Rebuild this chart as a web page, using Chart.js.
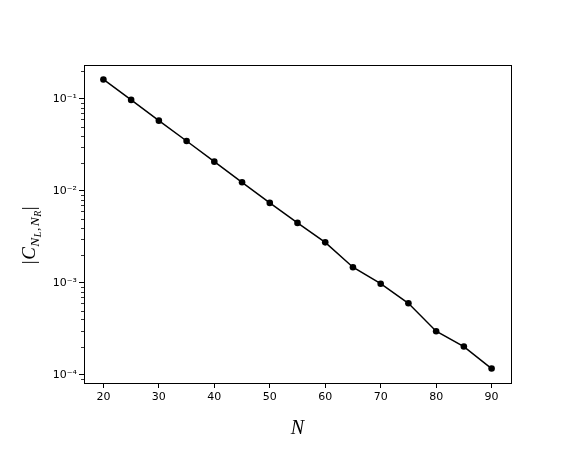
<!DOCTYPE html>
<html>
<head>
<meta charset="utf-8">
<script src="https://cdn.jsdelivr.net/npm/chart.js@4/dist/chart.umd.min.js"></script>
<style>
  html, body { margin: 0; padding: 0; background: #ffffff; }
  #wrap { width: 581px; height: 454px; }
</style>
</head>
<body>
<div id="wrap"><canvas id="c" width="581" height="454"></canvas></div>
<script>
// ---- data ----
const nValues = [20, 25, 30, 35, 40, 45, 50, 55, 60, 65, 70, 75, 80, 85, 90];
const cValues = [0.163, 0.0976, 0.0581, 0.0349, 0.0208, 0.0124, 0.00741, 0.00449,
                 0.00276, 0.00148, 0.00098, 0.000600, 0.000298, 0.000203, 0.000117];
const xTickValues = [20, 30, 40, 50, 60, 70, 80, 90];
const yTickValues = [1e-4, 1e-3, 1e-2, 1e-1];
const yTickLabels = ['10\u207B\u2074', '10\u207B\u00B3', '10\u207B\u00B2', '10\u207B\u00B9'];
const xMin = 16.5, xMax = 93.5;
const yMin = 8.15e-5, yMax = 0.234;

const tickFont = { family: 'DejaVu Sans', size: 11 };

// frame, minor log ticks and math axis labels
const decorPlugin = {
  id: 'decor',
  afterDraw(chart) {
    const ctx = chart.ctx;
    const a = chart.chartArea;
    const ys = chart.scales.y;
    ctx.save();
    // frame
    ctx.strokeStyle = '#000';
    ctx.lineWidth = 1;
    ctx.strokeRect(Math.round(a.left) + 0.5, Math.round(a.top) + 0.5,
                   Math.round(a.right - a.left), Math.round(a.bottom - a.top));
    // minor ticks on log axis
    ctx.lineWidth = 0.8;
    for (let e = -5; e <= 0; e++) {
      for (let m = 2; m <= 9; m++) {
        const v = m * Math.pow(10, e);
        if (v < yMin || v > yMax) continue;
        const py = Math.round(ys.getPixelForValue(v)) + 0.5;
        ctx.beginPath();
        ctx.moveTo(a.left - 3, py);
        ctx.lineTo(a.left, py);
        ctx.stroke();
      }
    }
    // x axis label
    ctx.fillStyle = '#000';
    ctx.font = 'italic 20px "Liberation Serif"';
    ctx.textAlign = 'center';
    ctx.textBaseline = 'alphabetic';
    ctx.fillText('N', (a.left + a.right) / 2, 434);
    // y axis label |C_{N_L,N_R}|
    const big = 19, mid = 13.5, small = 10;
    const parts = [
      { t: '|', f: big + 'px "Liberation Serif"', dy: 0 },
      { t: 'C', f: 'italic ' + big + 'px "Liberation Serif"', dy: 0 },
      { t: 'N', f: 'italic ' + mid + 'px "Liberation Serif"', dy: 3.5 },
      { t: 'L', f: 'italic ' + small + 'px "Liberation Serif"', dy: 5.5 },
      { t: ',', f: mid + 'px "Liberation Serif"', dy: 3.5 },
      { t: 'N', f: 'italic ' + mid + 'px "Liberation Serif"', dy: 3.5 },
      { t: 'R', f: 'italic ' + small + 'px "Liberation Serif"', dy: 5.5 },
      { t: '|', f: big + 'px "Liberation Serif"', dy: 0 }
    ];
    let total = 0;
    parts.forEach(p => { ctx.font = p.f; p.w = ctx.measureText(p.t).width + (p.t === ',' ? 1.5 : 0.5); total += p.w; });
    ctx.translate(35, 235);
    ctx.rotate(-Math.PI / 2);
    ctx.textAlign = 'left';
    let u = -total / 2;
    parts.forEach(p => {
      ctx.font = p.f;
      ctx.fillText(p.t, u, p.dy);
      u += p.w;
    });
    ctx.restore();
  }
};

new Chart(document.getElementById('c'), {
  type: 'line',
  data: {
    datasets: [{
      data: nValues.map((n, i) => ({ x: n, y: cValues[i] })),
      borderColor: '#000',
      backgroundColor: '#000',
      borderWidth: 1.5,
      pointRadius: 3.3,
      pointBorderWidth: 0,
      pointBackgroundColor: '#000',
      tension: 0,
      fill: false
    }]
  },
  options: {
    responsive: false,
    animation: false,
    devicePixelRatio: 1,
    layout: { padding: { left: 0, top: 65, right: 70, bottom: 0 } },
    plugins: { legend: { display: false }, tooltip: { enabled: false } },
    scales: {
      x: {
        type: 'linear',
        min: xMin, max: xMax,
        afterBuildTicks(s) { s.ticks = xTickValues.map(v => ({ value: v })); },
        afterFit(s) { s.height = 71; },
        grid: { drawOnChartArea: false, drawTicks: true, tickLength: 5, tickColor: '#000', tickWidth: 1 },
        border: { display: true, color: '#000', width: 1 },
        ticks: { color: '#000', font: tickFont, padding: 3, maxRotation: 0, autoSkip: false }
      },
      y: {
        type: 'logarithmic',
        min: yMin, max: yMax,
        afterBuildTicks(s) { s.ticks = yTickValues.map(v => ({ value: v, major: true })); },
        afterFit(s) { s.width = 84; },
        grid: { drawOnChartArea: false, drawTicks: true, tickLength: 5, tickColor: '#000', tickWidth: 1 },
        border: { display: true, color: '#000', width: 1 },
        ticks: {
          color: '#000', font: tickFont, padding: 2, autoSkip: false,
          callback(v) { const i = yTickValues.findIndex(t => Math.abs(t - v) / t < 1e-6); return i >= 0 ? yTickLabels[i] : ''; }
        }
      }
    }
  },
  plugins: [decorPlugin]
});
</script>
</body>
</html>
